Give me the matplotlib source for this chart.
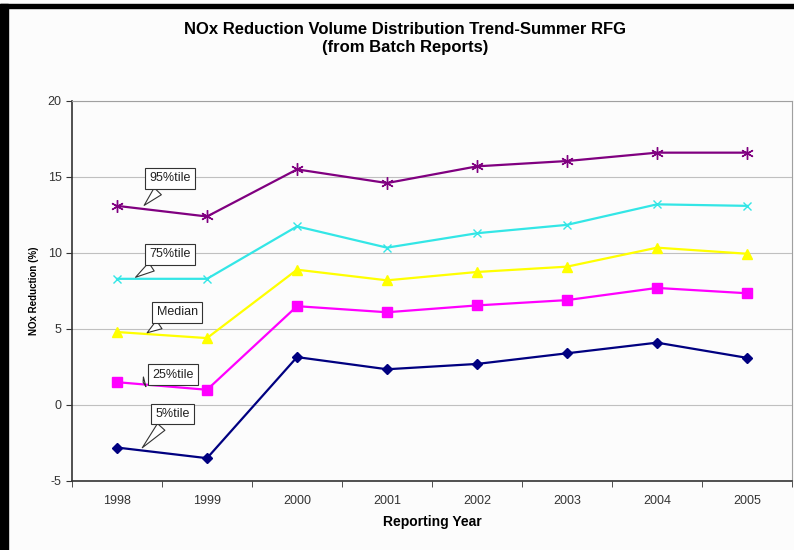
import matplotlib
matplotlib.use("Agg")
import matplotlib.pyplot as plt
import numpy as np
from matplotlib.patches import Rectangle

plt.rcParams['font.family'] = ['Liberation Sans', 'DejaVu Sans']
plt.rcParams['axes.unicode_minus'] = False

years = ['1998', '1999', '2000', '2001', '2002', '2003', '2004', '2005']
p95 = [13.1, 12.4, 15.5, 14.6, 15.7, 16.05, 16.6, 16.6]
p75 = [8.3, 8.3, 11.75, 10.35, 11.3, 11.85, 13.2, 13.1]
median = [4.8, 4.4, 8.9, 8.2, 8.75, 9.1, 10.35, 9.95]
p25 = [1.5, 1.0, 6.5, 6.1, 6.55, 6.9, 7.7, 7.35]
p5 = [-2.8, -3.5, 3.15, 2.35, 2.7, 3.4, 4.1, 3.1]

series = [
    ('95%tile', p95, '#800080', (6, 2, 0), 9),
    ('75%tile', p75, '#33E6E6', 'x', 6),
    ('Median', median, '#FFFF00', '^', 7),
    ('25%tile', p25, '#FF00FF', 's', 7),
    ('5%tile', p5, '#000080', 'D', 5),
]

# callout label position (text) and point on the line
callouts = {
    '95%tile': ((0.59, 14.9), (0.28, 13.0)),
    '75%tile': ((0.59, 9.9), (0.18, 8.3)),
    'Median': ((0.67, 6.1), (0.31, 4.65)),
    '25%tile': ((0.62, 2.0), (0.26, 1.45)),
    '5%tile': ((0.62, -0.6), (0.26, -2.95)),
}

fig = plt.figure(figsize=(7.94, 5.5), dpi=100)
fig.patch.set_facecolor('#FCFCFC')
ax = fig.add_axes([0.0907, 0.1255, 0.9068, 0.6909])
ax.set_facecolor('#FCFCFC')

x = np.arange(len(years))
for name, vals, color, marker, ms in series:
    ax.plot(x, vals, color=color, linewidth=1.6, marker=marker, markersize=ms,
            markeredgecolor=color, markerfacecolor=color, markeredgewidth=1.0, zorder=3)
    (tx, ty), (px, py) = callouts[name]
    ax.annotate(name, xy=(px, py), xytext=(tx, ty), fontsize=9, ha='center', va='center',
                color='#222222',
                bbox=dict(boxstyle='square,pad=0.35', fc='white', ec='#333333', lw=0.8),
                arrowprops=dict(arrowstyle='wedge,tail_width=0.8', fc='white', ec='#333333', lw=0.8),
                zorder=5)

ax.set_xlim(-0.5, 7.5)
ax.set_ylim(-5, 20)
ax.set_yticks([-5, 0, 5, 10, 15, 20])
ax.set_xticks(x)
ax.set_xticklabels(years)
ax.set_xticks(np.arange(-0.5, 8, 1), minor=True)
ax.tick_params(axis='x', which='major', length=0, pad=10, labelsize=9, labelcolor='#333333')
ax.tick_params(axis='x', which='minor', length=4, direction='out', color='#333333')
ax.tick_params(axis='y', length=4, direction='out', labelsize=9, labelcolor='#333333', color='#333333')
ax.yaxis.grid(True, color='#C0C0C0', linewidth=0.8)
ax.set_axisbelow(True)

for s in ['top', 'right']:
    ax.spines[s].set_color('#A0A0A0')
for s in ['left', 'bottom']:
    ax.spines[s].set_color('#333333')
    ax.spines[s].set_linewidth(1.2)

ax.set_xlabel('Reporting Year', fontsize=10, fontweight='bold', labelpad=6)
ax.set_ylabel('NOx Reduction (%)', fontsize=7, fontweight='bold', labelpad=6)

fig.text(0.51, 0.93, 'NOx Reduction Volume Distribution Trend-Summer RFG\n(from Batch Reports)',
         ha='center', va='center', fontsize=12, fontweight='bold', linespacing=1.3)

# black frame on top and left edges
fig.patches.append(Rectangle((0, 1 - 8 / 550), 1, 4 / 550, transform=fig.transFigure,
                             color='black', zorder=10))
fig.patches.append(Rectangle((0, 0), 8 / 794, 1 - 4 / 550, transform=fig.transFigure,
                             color='black', zorder=10))

fig.savefig('out.png', dpi=100)
